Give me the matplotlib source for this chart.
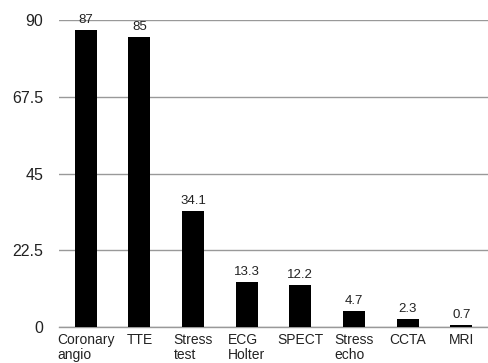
import matplotlib
matplotlib.use("Agg")
import matplotlib.pyplot as plt

categories = ["Coronary\nangio", "TTE", "Stress\ntest", "ECG\nHolter", "SPECT",
              "Stress\necho", "CCTA", "MRI"]
values = [87, 85, 34.1, 13.3, 12.2, 4.7, 2.3, 0.7]
value_labels = ["87", "85", "34.1", "13.3", "12.2", "4.7", "2.3", "0.7"]
yticks = [0, 22.5, 45, 67.5, 90]
ytick_labels = ["0", "22.5", "45", "67.5", "90"]

plt.rcParams['font.family'] = ['Liberation Sans', 'DejaVu Sans']

fig = plt.figure(figsize=(4.88, 3.63), dpi=100)
ax = fig.add_axes([0.121, 0.099, 0.879, 0.846])

x = list(range(len(categories)))
ax.bar(x, values, width=0.41, color='black', zorder=3)
for xi, v, lab in zip(x, values, value_labels):
    ax.annotate(lab, (xi, v), xytext=(0, 3), textcoords='offset points',
                ha='center', va='bottom', fontsize=9.5, color='#222222')

ax.set_xlim(-0.5, len(categories) - 0.5)
ax.set_ylim(0, 90)
ax.set_yticks(yticks)
ax.set_yticklabels(ytick_labels, fontsize=11.5, color='#222222')
ax.set_xticks(x)
ax.set_xticklabels(categories, fontsize=10, color='#222222', multialignment='left',
                   va='top', linespacing=1.15)
ax.tick_params(axis='y', length=0, pad=11.5)
ax.tick_params(axis='x', length=0, pad=4)
ax.yaxis.grid(True, color='#999999', linewidth=1)
ax.set_axisbelow(True)
for s in ['top', 'right', 'left']:
    ax.spines[s].set_visible(False)
ax.spines['bottom'].set_color('#999999')
ax.spines['bottom'].set_linewidth(1)

fig.savefig("out.png", dpi=100)
